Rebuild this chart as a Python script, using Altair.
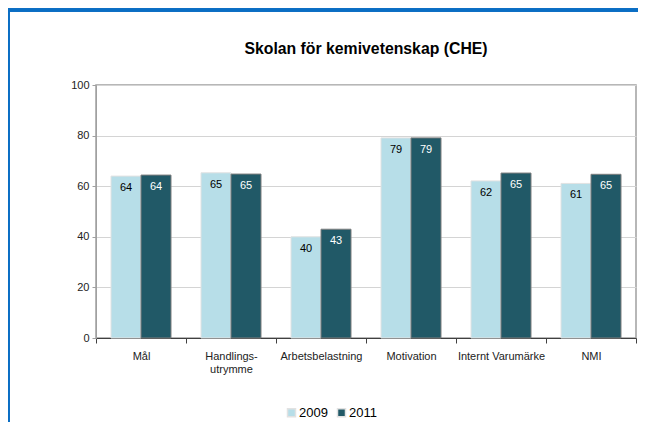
import altair as alt
import pandas as pd

categories = ["Mål", "Handlings-\nutrymme", "Arbetsbelastning", "Motivation", "Internt Varumärke", "NMI"]
years = ["2009", "2011"]
values_2009 = [64.0, 65.3, 40.0, 79.1, 62.1, 61.1]
values_2011 = [64.4, 64.8, 43.0, 79.1, 65.2, 64.7]
y_ticks = [0, 20, 40, 60, 80, 100]
colors = ["#B7DEE8", "#215967"]
title_text = "Skolan för kemivetenskap (CHE)"

rows = []
for c, v in zip(categories, values_2009):
    rows.append({"category": c, "year": "2009", "value": v})
for c, v in zip(categories, values_2011):
    rows.append({"category": c, "year": "2011", "value": v})
df = pd.DataFrame(rows)

FONT = "Liberation Sans"

x_enc = alt.X(
    "category:N",
    sort=categories,
    title=None,
    scale=alt.Scale(paddingInner=0, paddingOuter=0),
    axis=alt.Axis(
        labelAngle=0,
        labelExpr="split(datum.label, '\\n')",
        labelFontSize=11,
        labelFont=FONT,
        labelColor="#222222",
        labelPadding=7,
        labelLineHeight=13,
        tickBand="extent",
        tickSize=5,
        tickColor="#404040",
        domainColor="#404040",
        labelBaseline="top",
    ),
)
xoff_enc = alt.XOffset(
    "year:N",
    sort=years,
    scale=alt.Scale(paddingInner=0, paddingOuter=0.5),
)
y_enc = alt.Y(
    "value:Q",
    title=None,
    scale=alt.Scale(domain=[0, 100], nice=False),
    axis=alt.Axis(
        values=y_ticks,
        labelFontSize=11,
        labelFont=FONT,
        labelColor="#222222",
        labelPadding=3,
        tickSize=4,
        tickColor="#a0a0a0",
        domainColor="#a0a0a0",
        gridColor="#d4d4d4",
        grid=True,
    ),
)

bars = alt.Chart(df).mark_bar(strokeWidth=1).encode(
    x=x_enc,
    xOffset=xoff_enc,
    y=y_enc,
    color=alt.Color(
        "year:N",
        sort=years,
        scale=alt.Scale(domain=years, range=colors),
        legend=alt.Legend(
            title=None,
            orient="none",
            direction="horizontal",
            legendX=189,
            legendY=321,
            symbolType="square",
            symbolSize=64,
            symbolOpacity=1,
            labelFontSize=13,
            labelFont=FONT,
            labelColor="#000000",
            labelOffset=1,
            columnPadding=6,
            padding=0,
        ),
    ),
    stroke=alt.condition(alt.datum.year == "2011", alt.value("#7f7f7f"), alt.value("#e2e2e2")),
)

labels = alt.Chart(df).mark_text(
    baseline="middle", align="center", dy=12, fontSize=11, font=FONT
).encode(
    x=alt.X("category:N", sort=categories),
    xOffset=alt.XOffset("year:N", sort=years),
    y=alt.Y("value:Q"),
    text=alt.Text("value:Q", format="d"),
    color=alt.condition(alt.datum.year == "2011", alt.value("#ffffff"), alt.value("#000000")),
)

title_mark = alt.Chart(pd.DataFrame({"t": [title_text]})).mark_text(
    fontSize=15.8, font=FONT, fontWeight="bold", color="#000000",
    align="center", baseline="alphabetic"
).encode(
    x=alt.value(270), y=alt.value(-31.5), text="t:N"
)

frame = alt.Chart(df).mark_rect(
    fill=None, stroke="#0A6EC4", strokeWidth=2.5
).encode(
    x=alt.value(-88), x2=alt.value(700), y=alt.value(-75), y2=alt.value(500)
)

chart = alt.layer(bars, labels, title_mark, frame).properties(
    width=540,
    height=253,
    autosize=alt.AutoSizeParams(type="none"),
    padding={"left": 88, "top": 77, "right": 2, "bottom": 84},
).configure_view(
    stroke="#a0a0a0", strokeWidth=1.5
).resolve_scale(color="independent")

chart.save("out.html", embed_options={"renderer": "svg", "actions": False})
